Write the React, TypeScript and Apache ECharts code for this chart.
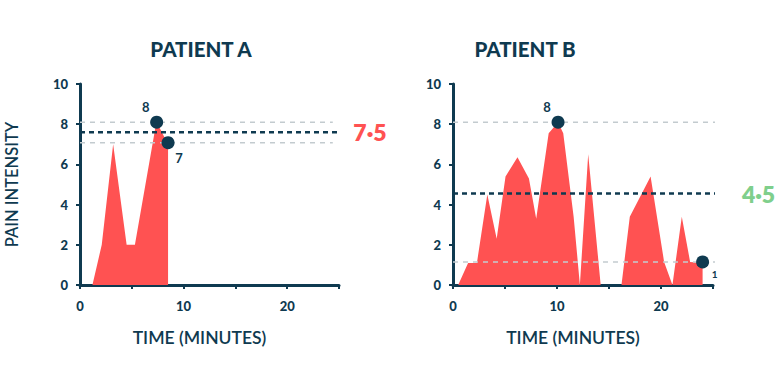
import React, { useEffect, useRef } from "react";
import * as echarts from "echarts";

const NAVY = "#0f3a50";
const RED = "#ff5252";
const GREEN = "#7fcf8c";
const GRAY = "#c3cbcf";

const titles = ["PATIENT A", "PATIENT B"];
const yTicksMax = 10;
const xMax = 25;

const timeA = [1.2, 2.1, 3.2, 4.5, 5.3, 7.3, 7.5, 8.5, 8.5];
const painA = [0, 2, 7, 2, 2, 7.9, 8, 7, 0];
const peakA = [7.4, 8.1];
const lastA = [8.5, 7.08];
const meanA = 7.6;
const meanLabelA = "7·5";
const refLinesA = [8.1, 7.08];

const timeB = [0.5, 1.45, 2.3, 3.3, 4.2, 5.05, 6.2, 7.3, 8.0, 9.2, 10.1, 10.6, 11.6, 12.2, 13.0, 14.2, 16.2, 17.0, 19.0, 20.3, 21.1, 22.0, 22.8, 24.0, 24.0];
const painB = [0, 1.1, 1.1, 4.5, 2.3, 5.4, 6.35, 5.3, 3.3, 7.55, 8.1, 7.55, 3.4, 0, 6.5, 0, 0, 3.4, 5.4, 1.15, 0, 3.4, 1.15, 1.1, 0];
const peakB = [10.1, 8.1];
const lastB = [24.0, 1.15];
const meanB = 4.55;
const meanLabelB = "4·5";
const refLinesB = [8.1, 1.15];

const FONT = "Lato";

function App() {
  const ref = useRef<HTMLDivElement>(null);
  useEffect(() => {
    document.body.style.margin = "0";
    const chart = echarts.init(ref.current!, null, { renderer: "svg" });

    const mkX = (idx: number, name: string) => ({
      type: "value",
      gridIndex: idx,
      min: 0,
      max: xMax,
      interval: 5,
      name,
      nameLocation: "middle",
      nameGap: 43,
      nameTextStyle: { color: NAVY, fontFamily: FONT, fontWeight: 600, fontSize: 17.5, padding: [0, 20, 0, 0] },
      axisLine: { show: true, onZero: false, lineStyle: { color: NAVY, width: 3 } },
      axisTick: { show: true, length: 4, lineStyle: { color: NAVY, width: 2 } },
      axisLabel: {
        color: NAVY,
        fontFamily: FONT,
        fontWeight: 900,
        fontSize: 13,
        margin: 14,
        formatter: (v: number) => (v % 10 === 0 ? String(v) : ""),
      },
      splitLine: { show: false },
    });
    const mkY = (idx: number, name: string) => ({
      type: "value",
      gridIndex: idx,
      min: 0,
      max: yTicksMax,
      interval: 2,
      name,
      nameLocation: "middle",
      nameGap: 60,
      nameTextStyle: { color: NAVY, fontFamily: FONT, fontWeight: 600, fontSize: 16.5 },
      axisLine: { show: true, lineStyle: { color: NAVY, width: 3 } },
      axisTick: { show: true, length: 4, lineStyle: { color: NAVY, width: 2 } },
      axisLabel: { color: NAVY, fontFamily: FONT, fontWeight: 900, fontSize: 13, margin: 12 },
      splitLine: { show: false },
    });

    const area = (idx: number, t: number[], p: number[]) => ({
      type: "line",
      xAxisIndex: idx,
      yAxisIndex: idx,
      data: t.map((x, i) => [x, p[i]]),
      symbol: "none",
      lineStyle: { width: 0 },
      areaStyle: { color: RED, opacity: 1 },
      z: 2,
    });
    const hline = (idx: number, y: number, end: number, color: string, width: number, dash: number[], label?: string, labelColor?: string) => ({
      type: "line",
      xAxisIndex: idx,
      yAxisIndex: idx,
      clip: false,
      symbol: "circle",
      symbolSize: 0,
      showSymbol: true,
      lineStyle: { color, width, type: dash },
      itemStyle: { color },
      data: [
        [0, y],
        label
          ? {
              value: [end, y],
              label: {
                show: true,
                position: "right",
                distance: 6,
                formatter: label,
                color: labelColor,
                fontFamily: FONT,
                fontWeight: 800,
                fontSize: 23,
              },
            }
          : [end, y],
      ],
      z: 3,
    });
    const marker = (idx: number, pt: number[], text: string, pos: string, offset: number[], size: number) => ({
      type: "scatter",
      xAxisIndex: idx,
      yAxisIndex: idx,
      symbolSize: 13,
      itemStyle: { color: NAVY, opacity: 1 },
      data: [pt],
      label: {
        show: true,
        formatter: text,
        position: pos,
        offset,
        color: NAVY,
        fontFamily: FONT,
        fontWeight: "bold",
        fontSize: size,
      },
      z: 5,
    });

    chart.setOption({
      animation: false,
      title: [
        { text: titles[0], left: 196, top: 33, textAlign: "center", textStyle: { color: NAVY, fontFamily: FONT, fontWeight: 900, fontSize: 20.5 } },
        { text: titles[1], left: 520, top: 33, textAlign: "center", textStyle: { color: NAVY, fontFamily: FONT, fontWeight: 900, fontSize: 20.5 } },
      ],
      grid: [
        { left: 80, right: 441, top: 84, bottom: 87 },
        { left: 453, right: 67, top: 84, bottom: 87 },
      ],
      xAxis: [mkX(0, "TIME (MINUTES)"), mkX(1, "TIME (MINUTES)")],
      yAxis: [mkY(0, "PAIN INTENSITY"), mkY(1, "")],
      series: [
        area(0, timeA, painA),
        hline(0, refLinesA[0], 24.4, GRAY, 1.5, [5, 5]),
        hline(0, refLinesA[1], 24.4, GRAY, 1.5, [5, 5]),
        hline(0, meanA, 25.8, NAVY, 2.5, [5, 4], meanLabelA, RED),
        marker(0, peakA, "8", "top", [-11, 3], 13),
        marker(0, lastA, "7", "bottom", [11, -3], 13),
        area(1, timeB, painB),
        hline(1, refLinesB[0], 26.1, GRAY, 1.5, [5, 5]),
        hline(1, refLinesB[1], 26.1, GRAY, 1.5, [5, 5]),
        hline(1, meanB, 27.2, NAVY, 2.5, [5, 4], meanLabelB, GREEN),
        marker(1, peakB, "8", "top", [-11, 3], 13),
        marker(1, lastB, "1", "bottom", [12, -4], 10),
      ],
    });
    return () => chart.dispose();
  }, []);
  return <div ref={ref} style={{ width: 780, height: 372 }} />;
}

export default App;
